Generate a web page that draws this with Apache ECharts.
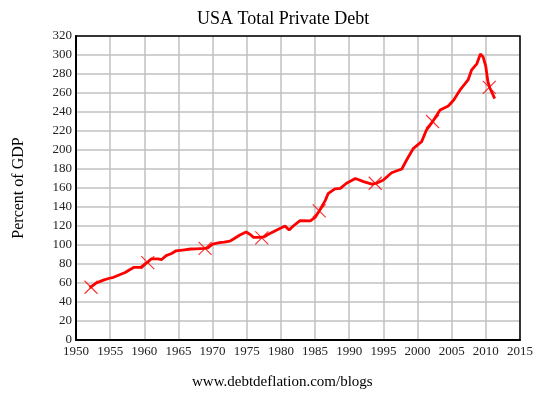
<!DOCTYPE html>
<html>
<head>
<meta charset="utf-8">
<script src="https://cdn.jsdelivr.net/npm/echarts@6/dist/echarts.min.js"></script>
<style>html,body{margin:0;padding:0;background:#fff}#c{width:544px;height:393px}</style>
</head>
<body>
<div id="c"></div>
<script>
var years = [1952, 1952.9, 1954, 1954.9, 1955.5, 1956.3, 1957.2, 1957.8, 1958.5, 1959.5, 1960.2, 1960.5, 1961, 1962, 1962.5, 1963.2, 1964, 1964.6, 1965.6, 1966.8, 1967.5, 1968.8, 1969.3, 1970, 1971, 1971.7, 1972.5, 1973, 1974, 1974.9, 1975.5, 1976, 1976.9, 1977.5, 1978.1, 1979.4, 1980.6, 1981.2, 1981.8, 1982.8, 1984.3, 1985, 1985.7, 1986.5, 1986.9, 1987.9, 1988.7, 1989.6, 1990.9, 1992.1, 1993.3, 1994, 1995, 1996.2, 1997.7, 1998.4, 1999.4, 2000.6, 2001.3, 2002.2, 2003.3, 2004.5, 2005.3, 2006.2, 2007.4, 2007.9, 2008.7, 2009.2, 2009.6, 2010, 2010.3, 2010.6, 2011.3];
var debt = [55, 59.7, 63, 65, 66, 68.4, 71, 73.7, 76.5, 76.5, 80.7, 82, 85.3, 85.3, 84.5, 88.8, 91, 93.7, 94.7, 95.8, 96, 96.5, 97, 101, 102.5, 103, 104, 106, 110.5, 113.7, 111, 108, 108, 108.5, 111, 115.8, 120, 115.8, 120, 125.6, 125.3, 129, 136.8, 147, 154, 159, 159.6, 165, 170, 166.7, 164, 165, 168.4, 176, 180, 189.5, 201.8, 208.8, 221, 229.8, 242, 246.3, 252.6, 263, 273.7, 284, 291, 301, 298, 287.7, 272, 265, 254];
var markerYears = [1952.2, 1960.5, 1968.9, 1977.2, 1985.6, 1993.8, 2002.2, 2010.5];
var markerValues = [55.5, 81.5, 96.5, 107.5, 136, 165, 230, 266];
var xTicks = {min: 1950, max: 2015, interval: 5};
var yTicks = {min: 0, max: 320, interval: 20};

var lineData = years.map(function (y, i) { return [y, debt[i]]; });
var markData = markerYears.map(function (y, i) { return [y, markerValues[i]]; });
var serif = '"Liberation Serif", "DejaVu Serif", serif';

var chart = echarts.init(document.getElementById('c'));
chart.setOption({
  animation: false,
  backgroundColor: '#fff',
  title: {
    text: 'USA Total Private Debt',
    left: 192, top: 5,
    textStyle: {fontFamily: serif, fontSize: 18, fontWeight: 'normal', color: '#000'}
  },
  graphic: [
    {type: 'text', left: 192, top: 375,
     style: {text: 'www.debtdeflation.com/blogs', font: '15px ' + serif, fill: '#000'}},
    {type: 'rect', shape: {x: 76, y: 36, width: 444, height: 304},
     style: {fill: 'none', stroke: '#000', lineWidth: 1.5}, z: 10}
  ],
  grid: {left: 76, right: 24, top: 36, bottom: 53, containLabel: false},
  xAxis: {
    type: 'value', min: xTicks.min, max: xTicks.max, interval: xTicks.interval,
    axisLine: {show: true, onZero: false, lineStyle: {color: '#000', width: 2}},
    axisTick: {show: false},
    axisLabel: {fontFamily: serif, fontSize: 13, color: '#222', margin: 5,
      formatter: function (v) { return String(v); }},
    splitLine: {show: true, lineStyle: {color: '#c0c0c0', width: 1.5}}
  },
  yAxis: {
    type: 'value', min: yTicks.min, max: yTicks.max, interval: yTicks.interval,
    name: 'Percent of GDP', nameLocation: 'middle', nameGap: 49, nameRotate: 90,
    nameTextStyle: {fontFamily: serif, fontSize: 16, color: '#000'},
    axisLine: {show: true, onZero: false, lineStyle: {color: '#000', width: 2}},
    axisTick: {show: false},
    axisLabel: {fontFamily: serif, fontSize: 13, color: '#222', margin: 4},
    splitLine: {show: true, lineStyle: {color: '#c0c0c0', width: 1.5}}
  },
  series: [
    {type: 'line', data: lineData, showSymbol: false, symbol: 'none',
     lineStyle: {color: '#ff0000', width: 2.8}, z: 5},
    {type: 'scatter', data: markData,
     symbol: 'path://M0,0L10,10M10,0L0,10', symbolSize: 13,
     itemStyle: {color: 'none', borderColor: '#ff0000', borderWidth: 1.2}, z: 6}
  ]
});
</script>
</body>
</html>
